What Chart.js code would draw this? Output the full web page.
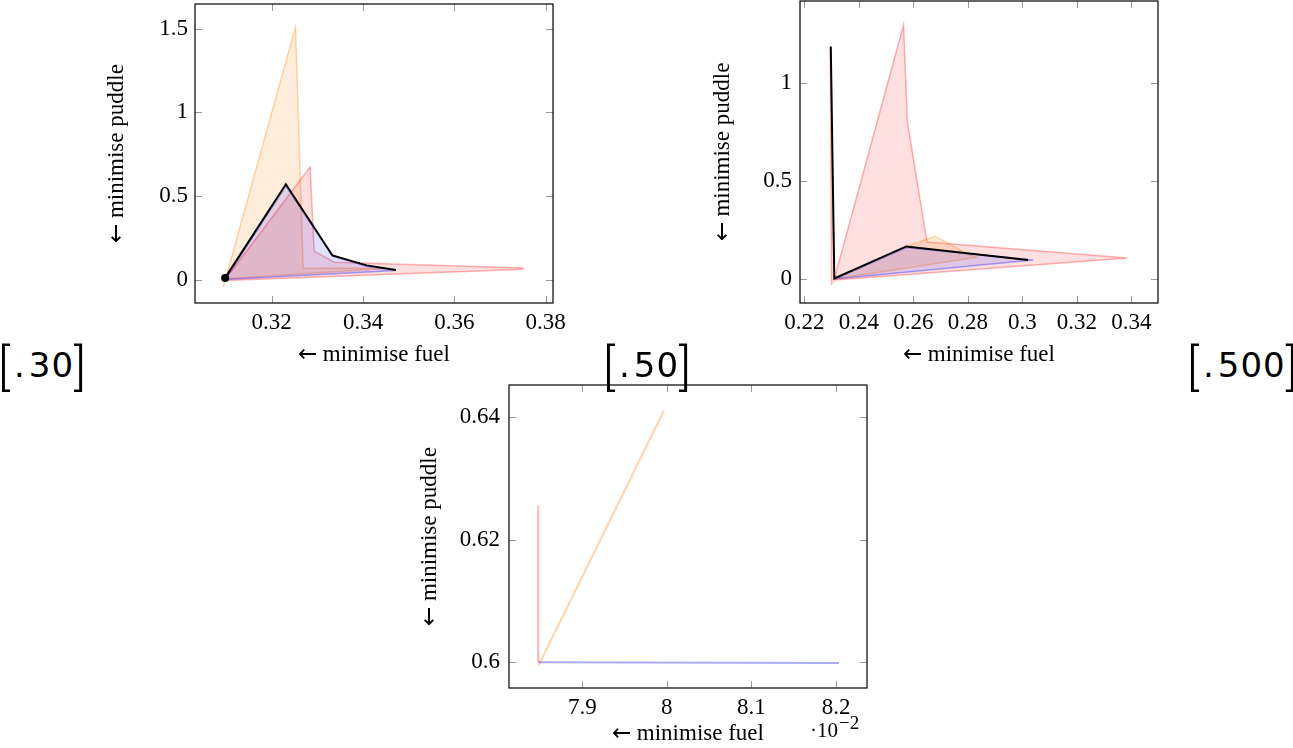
<!DOCTYPE html>
<html><head><meta charset="utf-8">
<script src="https://cdn.jsdelivr.net/npm/chart.js@4.4.1/dist/chart.umd.min.js"></script>
<style>
@font-face { font-family: "Arr"; src: local("DejaVu Sans"), local("DejaVuSans"); unicode-range: U+2190-2193; }
body{margin:0;width:1293px;height:748px;overflow:hidden;background:#fff;position:relative}
canvas{position:absolute}
.tag{position:absolute;top:343px;font-family:"DejaVu Sans";font-size:34px;line-height:34px;color:#000;white-space:pre}
.tag span{display:inline-block}
.tag .b{font-family:Roboto;font-weight:300;font-size:50px;position:relative;top:7px}
.tag .d{margin-left:4px;letter-spacing:1px}
.tag .p{margin-left:4px}
.exp{position:absolute;font-family:"Liberation Serif";font-size:21px;line-height:1;color:#000;white-space:pre}
.exp sup{font-size:19px;position:relative;top:-8px;vertical-align:baseline;line-height:0;margin-left:1px}
</style></head>
<body>
<canvas id="c1" width="470" height="372" style="left:100px;top:0px"></canvas>
<canvas id="c2" width="480" height="372" style="left:700px;top:0px"></canvas>
<canvas id="c3" width="480" height="368" style="left:405px;top:380px"></canvas>
<div class="tag" style="left:-2px"><span class="b">[</span><span class="p">.</span><span class="d">30</span><span class="b">]</span></div>
<div class="tag" style="left:603px"><span class="b">[</span><span class="p">.</span><span class="d">50</span><span class="b">]</span></div>
<div class="tag" style="left:1187px"><span class="b">[</span><span class="p">.</span><span class="d">500</span><span class="b">]</span></div>
<div class="exp" style="left:810px;top:720px">·10<sup>−2</sup></div>
<script>
// ---------- Panel 1 [.30] ----------
const P1_X_TICKS = [0.32, 0.34, 0.36, 0.38];
const P1_Y_TICKS = [0, 0.5, 1, 1.5];
const P1_BLACK_X = [0.3098, 0.3231, 0.3333, 0.3408, 0.3472];
const P1_BLACK_Y = [0.010, 0.570, 0.144, 0.085, 0.057];
const P1_DOT_X = [0.3098];
const P1_DOT_Y = [0.010];
const P1_BLUE_X = [0.3098, 0.3231, 0.3333, 0.3408, 0.3472, 0.3098];
const P1_BLUE_Y = [0.000, 0.560, 0.140, 0.080, 0.055, 0.000];
const P1_RED_X = [0.3098, 0.3284, 0.3293, 0.3337, 0.3750, 0.3750, 0.3098];
const P1_RED_Y = [0.000, 0.673, 0.170, 0.104, 0.069, 0.062, -0.005];
const P1_ORANGE_X = [0.3094, 0.3252, 0.3269, 0.3450, 0.3098];
const P1_ORANGE_Y = [-0.045, 1.510, 0.069, 0.066, 0.005];

// ---------- Panel 2 [.500] ----------
const P2_X_TICKS = [0.22, 0.24, 0.26, 0.28, 0.30, 0.32, 0.34];
const P2_Y_TICKS = [0, 0.5, 1];
const P2_BLACK_X = [0.2297, 0.2310, 0.2574, 0.3021];
const P2_BLACK_Y = [1.183, 0.003, 0.166, 0.097];
const P2_BLUE_X = [0.2310, 0.2574, 0.3040, 0.2310];
const P2_BLUE_Y = [0.000, 0.160, 0.097, 0.000];
const P2_RED_X = [0.2300, 0.2295, 0.2310, 0.2564, 0.2578, 0.2650, 0.3386, 0.2310];
const P2_RED_Y = [-0.030, 1.170, 0.000, 1.293, 0.801, 0.188, 0.107, -0.005];
const P2_ORANGE_X = [0.2310, 0.2574, 0.2681, 0.2781, 0.2830, 0.2310];
const P2_ORANGE_Y = [0.000, 0.166, 0.217, 0.140, 0.110, 0.000];

// ---------- Panel 3 [.50] (x in units of 1e-2) ----------
const P3_X_TICKS = [7.9, 8.0, 8.1, 8.2];
const P3_Y_TICKS = [0.60, 0.62, 0.64];
const P3_RED_X = [7.848, 7.848];
const P3_RED_Y = [0.6000, 0.6256];
const P3_ORANGE_X = [7.848, 7.9965];
const P3_ORANGE_Y = [0.5994, 0.6411];
const P3_BLUE_X = [7.848, 8.2035];
const P3_BLUE_Y = [0.6000, 0.5999];

const X_TITLE = '← minimise fuel';
const Y_TITLE = '← minimise puddle';

const SERIF = '"Liberation Serif", "DejaVu Serif", serif';
const TITLE_FONT = '"Arr", "Liberation Serif", "DejaVu Serif", serif';
const FS = 23;
const COL = {
  black: {line: '#000000', fill: 'rgba(0,0,0,0)'},
  blue: {line: 'rgba(0,0,255,0.33)', fill: 'rgba(0,0,255,0.12)'},
  red: {line: 'rgba(255,0,0,0.30)', fill: 'rgba(255,0,0,0.12)'},
  orange: {line: 'rgba(255,128,0,0.33)', fill: 'rgba(255,128,0,0.14)'}
};

function pts(xs, ys) { return xs.map((x, i) => ({x: x, y: ys[i]})); }
function fmt(v) { return String(+v.toFixed(4)); }

function poly(xs, ys, c, filled, width) {
  return {
    data: pts(xs, ys), showLine: true, tension: 0, pointRadius: 0,
    borderColor: COL[c].line, backgroundColor: COL[c].fill,
    borderWidth: width, fill: filled ? 'shape' : false, borderJoinStyle: 'miter'
  };
}

const framePlugin = {
  id: 'frame',
  afterDatasetsDraw(chart) {
    const {ctx, chartArea: a, scales} = chart;
    ctx.save();
    ctx.strokeStyle = '#9a9a9a';
    ctx.lineWidth = 1;
    const L = 7;
    scales.x.ticks.forEach(t => {
      const px = Math.round(scales.x.getPixelForValue(t.value)) + 0.5;
      ctx.beginPath();
      ctx.moveTo(px, a.bottom); ctx.lineTo(px, a.bottom - L);
      ctx.moveTo(px, a.top); ctx.lineTo(px, a.top + L);
      ctx.stroke();
    });
    scales.y.ticks.forEach(t => {
      const py = Math.round(scales.y.getPixelForValue(t.value)) + 0.5;
      ctx.beginPath();
      ctx.moveTo(a.left, py); ctx.lineTo(a.left + L, py);
      ctx.moveTo(a.right, py); ctx.lineTo(a.right - L, py);
      ctx.stroke();
    });
    ctx.strokeStyle = '#000';
    ctx.lineWidth = 1.2;
    ctx.strokeRect(a.left, a.top, a.right - a.left, a.bottom - a.top);
    ctx.restore();
  }
};

function makeChart(id, o) {
  return new Chart(document.getElementById(id), {
    type: 'scatter',
    data: {datasets: o.datasets},
    plugins: [framePlugin],
    options: {
      responsive: false, animation: false,
      layout: {padding: {left: 0, top: o.padTop, right: o.padRight, bottom: 0}},
      plugins: {legend: {display: false}, tooltip: {enabled: false}},
      scales: {
        x: {
          type: 'linear', min: o.xmin, max: o.xmax,
          grid: {display: false, drawTicks: false}, border: {display: false},
          afterBuildTicks: s => { s.ticks = o.xticks.map(v => ({value: v})); },
          afterFit: s => { s.height = o.xAxisH; s.paddingLeft = 0; s.paddingRight = 0; },
          ticks: {color: '#000', font: {family: SERIF, size: FS}, padding: o.xTickPad, maxRotation: 0, autoSkip: false, callback: v => fmt(v)},
          title: {display: true, text: X_TITLE, color: '#000', font: {family: TITLE_FONT, size: FS}, padding: {top: 0, bottom: o.xTitlePad}}
        },
        y: {
          type: 'linear', min: o.ymin, max: o.ymax,
          grid: {display: false, drawTicks: false}, border: {display: false},
          afterBuildTicks: s => { s.ticks = o.yticks.map(v => ({value: v})); },
          afterFit: s => { s.width = o.yAxisW; s.paddingTop = 0; s.paddingBottom = 0; },
          ticks: {color: '#000', font: {family: SERIF, size: FS}, padding: o.yTickPad, autoSkip: false, callback: v => fmt(v)},
          title: {display: true, text: Y_TITLE, color: '#000', font: {family: TITLE_FONT, size: FS}, padding: {top: o.yTitlePad, bottom: 0}}
        }
      }
    }
  });
}

function drawAll() {
  makeChart('c1', {
    xmin: 0.3032, xmax: 0.3816, ymin: -0.140, ymax: 1.648,
    xticks: P1_X_TICKS, yticks: P1_Y_TICKS,
    padTop: 1, padRight: 17, xAxisH: 69, yAxisW: 95, xTickPad: 6, yTickPad: 7, xTitlePad: 3, yTitlePad: 3,
    datasets: [
      {data: pts(P1_DOT_X, P1_DOT_Y), pointRadius: 4, pointBackgroundColor: '#000', pointBorderWidth: 0, showLine: false},
      poly(P1_BLACK_X, P1_BLACK_Y, 'black', false, 2),
      poly(P1_BLUE_X, P1_BLUE_Y, 'blue', true, 1.5),
      poly(P1_RED_X, P1_RED_Y, 'red', true, 1.5),
      poly(P1_ORANGE_X, P1_ORANGE_Y, 'orange', true, 1.5)
    ]
  });

  makeChart('c2', {
    xmin: 0.2184, xmax: 0.3498, ymin: -0.122, ymax: 1.415,
    xticks: P2_X_TICKS, yticks: P2_Y_TICKS,
    padTop: 1, padRight: 22, xAxisH: 69, yAxisW: 100, xTickPad: 6, yTickPad: 8, xTitlePad: 3, yTitlePad: 9,
    datasets: [
      poly(P2_BLACK_X, P2_BLACK_Y, 'black', false, 2),
      poly(P2_BLUE_X, P2_BLUE_Y, 'blue', true, 1.5),
      poly(P2_ORANGE_X, P2_ORANGE_Y, 'orange', true, 1.5),
      poly(P2_RED_X, P2_RED_Y, 'red', true, 1.5)
    ]
  });

  makeChart('c3', {
    xmin: 7.8134, xmax: 8.2366, ymin: 0.5958, ymax: 0.6453,
    xticks: P3_X_TICKS, yticks: P3_Y_TICKS,
    padTop: 5, padRight: 18, xAxisH: 60, yAxisW: 104, xTickPad: 6, yTickPad: 9, xTitlePad: 0, yTitlePad: 11,
    datasets: [
      poly(P3_BLUE_X, P3_BLUE_Y, 'blue', false, 2),
      poly(P3_RED_X, P3_RED_Y, 'red', false, 2),
      poly(P3_ORANGE_X, P3_ORANGE_Y, 'orange', false, 2)
    ]
  });
}

let done = false;
function go() { if (!done) { done = true; drawAll(); } }
if (document.fonts && document.fonts.load) {
  document.fonts.load('23px "Arr"', '←').then(go, go);
  setTimeout(go, 1500);
} else { go(); }
</script>
</body></html>
